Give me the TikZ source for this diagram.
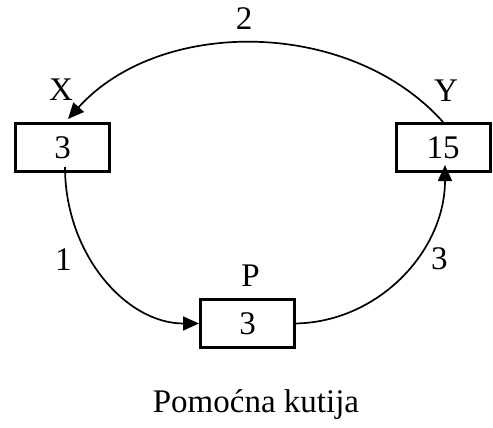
\documentclass[tikz,border=0pt]{standalone}
\usepackage{fontspec}
\setmainfont{Liberation Serif}
\usetikzlibrary{arrows.meta}

\begin{document}
\begin{tikzpicture}[
    x=0.5pt, y=-0.5pt,
    every node/.style={font=\fontsize{16.5}{19}\selectfont},
    box/.style={draw, line width=1.5pt, minimum width=47pt, minimum height=24pt, inner sep=0pt},
    link/.style={line width=0.85pt, -{Triangle[length=8pt, width=7pt]}}
]
    \useasboundingbox (0,0) rectangle (493,428);

    % --- Boxes ---
    \node[box] (X) at (62.5,147.5) {3};
    \node[box] (Y) at (443,147.5)  {15};
    \node[box] (P) at (247.5,323.5) {3};

    \node (Xname) at (61,90)  {X};
    \node (Yname) at (446,91) {Y};
    \node (Pname) at (250.5,276) {P};

    % --- Connectors ---
    \draw[link] ([shift={(2.5,-6)}]X.south) .. controls +(0,87) and +(-73,0) .. (P.west)
        node[pos=0.4, left=6pt] (one) {1};
    \draw[link] ([shift={(-3,0)}]P.east) .. controls +(84,0) and +(0,87) .. ([shift={(2,-8)}]Y.south)
        node[pos=0.6, right=4pt] (three) {3};
    \draw[link] (Y.north) .. controls +(-93,-104) and +(92,-102) .. ([shift={(5.5,-3)}]X.north);

    \node (two) at (244,19) {2};

    \node (caption) at (256,405) {Pomoćna kutija};

\end{tikzpicture}
\end{document}
